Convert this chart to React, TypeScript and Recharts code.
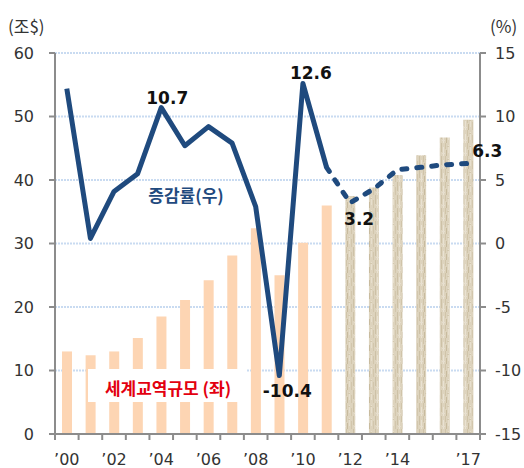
import React from 'react'
import {
  ComposedChart,
  Bar,
  Line,
  XAxis,
  YAxis,
  CartesianGrid,
  Cell,
} from 'recharts'

const years = [
  '2000', '2001', '2002', '2003', '2004', '2005', '2006', '2007', '2008',
  '2009', '2010', '2011', '2012', '2013', '2014', '2015', '2016', '2017',
]
const yearLabels = [
  '’00', '', '’02', '', '’04', '', '’06', '', '’08',
  '', '’10', '', '’12', '', '’14', '', '', '’17',
]
// world trade volume, trillion $ (left axis)
const tradeVolume = [
  13.0, 12.4, 13.0, 15.1, 18.5, 21.1, 24.2, 28.1, 32.4,
  25.0, 30.1, 36.0, 37.5, 38.8, 40.8, 43.9, 46.7, 49.5,
]
// growth rate, % (right axis)
const growthRate = [
  12.2, 0.4, 4.1, 5.5, 10.7, 7.7, 9.2, 7.9, 2.9,
  -10.4, 12.6, 6.0, 3.2, 4.3, 5.8, 6.0, 6.2, 6.3,
]
const forecastStart = 11 // dashed line starts here, textured bars after it
const labelledPoints = ['2004', '2009', '2010', '2012', '2017']
const leftTicks = [0, 10, 20, 30, 40, 50, 60]
const rightTicks = [-15, -10, -5, 0, 5, 10, 15]

const data = years.map((year, i) => ({
  year,
  trade: tradeVolume[i],
  actual: i <= forecastStart ? growthRate[i] : null,
  forecast: i >= forecastStart ? growthRate[i] : null,
}))

const W = 524
const H = 468
const LEFT_W = 55
const RIGHT_W = 44
const PLOT_W = W - LEFT_W - RIGHT_W
const FONT = '"DejaVu Sans", "Noto Sans CJK KR", sans-serif'
const KR_FONT = '"Noto Sans CJK KR", "DejaVu Sans", sans-serif'
const NAVY = '#1f4a7e'
const AXIS = '#8c8c8c'

// label offsets per point (dx, dy)
const labelOffset: Record<string, [number, number]> = {
  '2004': [6, -4],
  '2010': [8, -4],
  '2009': [8, 21],
  '2012': [9, 22],
  '2017': [19, -6],
}

function XTick(props: any) {
  const { x, y, index } = props
  const step = PLOT_W / years.length
  const last = index === years.length - 1
  return (
    <g>
      <line x1={x - step / 2} x2={x - step / 2} y1={y} y2={y + 6} stroke={AXIS} strokeWidth={2} />
      {last && <line x1={x + step / 2} x2={x + step / 2} y1={y} y2={y + 6} stroke={AXIS} strokeWidth={2} />}
      <text x={x} y={y + 31} textAnchor="middle" fontSize={16} fill="#333" fontFamily={FONT}>
        {yearLabels[index]}
      </text>
    </g>
  )
}

function PointLabel(props: any) {
  const { x, y, index, value } = props
  const year = years[index]
  if (value == null || !labelledPoints.includes(year)) return null
  if (year === '2012' && props.dataKey === 'actual') return null
  if (year !== '2012' && year !== '2017' && props.dataKey === 'forecast') return null
  const [dx, dy] = labelOffset[year]
  return (
    <text x={x + dx} y={y + dy} textAnchor="middle" fontSize={17} fontWeight="bold" fill="#111" fontFamily={FONT}>
      {value.toFixed(1)}
    </text>
  )
}

export default function App() {
  return (
    <div style={{ position: 'absolute', left: 0, top: 0, width: W, height: H, background: '#fff' }}>
      <ComposedChart
        width={W}
        height={H}
        data={data}
        margin={{ top: 53, right: 0, bottom: 0, left: 0 }}
        barSize={10}
      >
        <defs>
          <pattern id="texture" width="11" height="13" patternUnits="userSpaceOnUse">
            <rect width="11" height="13" fill="#ddd3bd" />
            <rect x="1" y="0" width="1" height="9" fill="#cdc1a6" />
            <rect x="3" y="4" width="1" height="9" fill="#e9e2d2" />
            <rect x="5" y="0" width="1" height="6" fill="#d0c4a9" />
            <rect x="6" y="7" width="1" height="6" fill="#c8bb9e" />
            <rect x="8" y="2" width="1" height="8" fill="#e7dfcd" />
            <rect x="10" y="5" width="1" height="8" fill="#d2c6ac" />
            <rect x="2" y="10" width="3" height="1" fill="#e6dece" />
            <rect x="7" y="3" width="2" height="1" fill="#d3c8ae" />
          </pattern>
        </defs>
        <CartesianGrid vertical={false} yAxisId="left" stroke="#c9dbf1" strokeWidth={2} strokeDasharray="2 1" />
        <XAxis
          dataKey="year"
          interval={0}
          height={34}
          tickSize={0}
          tickMargin={0}
          tickLine={false}
          axisLine={{ stroke: AXIS, strokeWidth: 2 }}
          tick={<XTick />}
        />
        <YAxis
          yAxisId="left"
          width={LEFT_W}
          domain={[0, 60]}
          ticks={leftTicks}
          tickSize={6}
          tickMargin={15}
          axisLine={{ stroke: AXIS, strokeWidth: 2 }}
          tickLine={{ stroke: AXIS, strokeWidth: 2 }}
          tick={{ fill: '#333', fontSize: 16, fontFamily: FONT }}
        />
        <YAxis
          yAxisId="right"
          orientation="right"
          width={RIGHT_W}
          domain={[-15, 15]}
          ticks={rightTicks}
          tickSize={6}
          tickMargin={9}
          axisLine={{ stroke: AXIS, strokeWidth: 2 }}
          tickLine={{ stroke: AXIS, strokeWidth: 2 }}
          tick={{ fill: '#333', fontSize: 16, fontFamily: FONT, textAnchor: 'start' }}
        />
        <Bar yAxisId="left" dataKey="trade" isAnimationActive={false}>
          {data.map((d, i) => (
            <Cell key={d.year} fill={i > forecastStart ? 'url(#texture)' : '#fdd5b3'} />
          ))}
        </Bar>
        <Line
          yAxisId="right"
          dataKey="actual"
          stroke={NAVY}
          strokeWidth={5}
          strokeLinejoin="round"
          dot={false}
          activeDot={false}
          connectNulls={false}
          isAnimationActive={false}
          label={<PointLabel dataKey="actual" />}
        />
        <Line
          yAxisId="right"
          dataKey="forecast"
          stroke={NAVY}
          strokeWidth={5}
          strokeDasharray="5 10"
          strokeLinecap="round"
          dot={false}
          activeDot={false}
          connectNulls={false}
          isAnimationActive={false}
          label={<PointLabel dataKey="forecast" />}
        />
      </ComposedChart>
      <svg width={W} height={H} style={{ position: 'absolute', left: 0, top: 0, pointerEvents: 'none' }}>
        <text x={8} y={33} fontSize={17} fill="#333" fontFamily={KR_FONT}>(조$)</text>
        <text x={490} y={33} fontSize={17} fill="#333" fontFamily={KR_FONT}>(%)</text>
        <text x={186} y={202} textAnchor="middle" fontSize={17} fontWeight="bold" fill={NAVY} fontFamily={KR_FONT}>
          증감률(우)
        </text>
        <rect x={88} y={369} width={158} height={33} fill="#fff" />
        <text x={168} y={395} textAnchor="middle" fontSize={17} fontWeight="bold" fill="#e3000f" fontFamily={KR_FONT}>
          세계교역규모 (좌)
        </text>
      </svg>
    </div>
  )
}
